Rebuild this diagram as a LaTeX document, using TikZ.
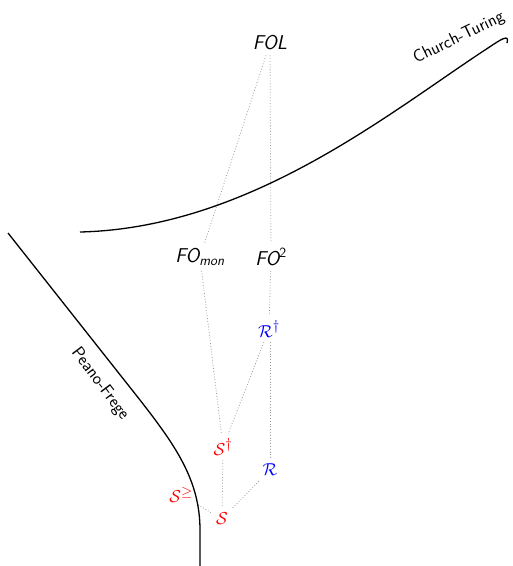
\documentclass[tikz,border=0pt]{standalone}
\usepackage{amsmath,amssymb}
\renewcommand{\familydefault}{\sfdefault}
\begin{document}
\begin{tikzpicture}[x=1pt,y=-1pt,
  lbl/.style={font=\fontsize{20}{24}\selectfont\sffamily\itshape, inner sep=5pt},
  sym/.style={font=\fontsize{19}{23}\selectfont, inner sep=5pt},
  link/.style={draw=gray!80, dotted, line width=0.8pt},
  frontier/.style={draw=black, line width=1.3pt},
  tag/.style={font=\fontsize{17.5}{20}\selectfont\sffamily}]
\useasboundingbox (0,0) rectangle (513,566);

% logics
\node[lbl] (fol) at (270,43) {FOL};
\node[lbl] (fomon) at (200,257) {FO$_{\textit{mon}}$};
\node[lbl] (fotwo) at (271,257) {FO$^{\textup{2}}$};
\node[sym, text=blue] (rdag) at (269,329) {$\mathcal{R}^{\dagger}$};
\node[sym, text=red] (sdag) at (223,447) {$\mathcal{S}^{\dagger}$};
\node[sym, text=blue] (r) at (270,470) {$\mathcal{R}$};
\node[sym, text=red] (sgeq) at (181,495) {$\mathcal{S}^{\geq}$};
\node[sym, text=red] (s) at (222,519) {$\mathcal{S}$};

% inclusions
\draw[link] (fol) -- (fomon);
\draw[link] (fol) -- (fotwo);
\draw[link] (fomon) -- (sdag);
\draw[link] (fotwo) -- (rdag);
\draw[link] (rdag) -- (sdag);
\draw[link] (rdag.south -| r) -- (r);
\draw[link] (sdag) -- (s);
\draw[link] (s) -- (r);
\draw[link] (s) -- (sgeq);

% frontiers
\draw[frontier] (80,232) .. controls (250,228) and (390,112) .. (488,48)
  .. controls (500,40) and (510,33) .. (507,43);
\node[tag, rotate=26] (ct) at (459,38) {Church-Turing};

\draw[frontier] (8,233) -- (140,400) .. controls (175,445) and (200,480) .. (200,530) -- (200,566);
\node[tag, rotate=-53] (pf) at (100,384) {Peano-Frege};
\end{tikzpicture}
\end{document}
